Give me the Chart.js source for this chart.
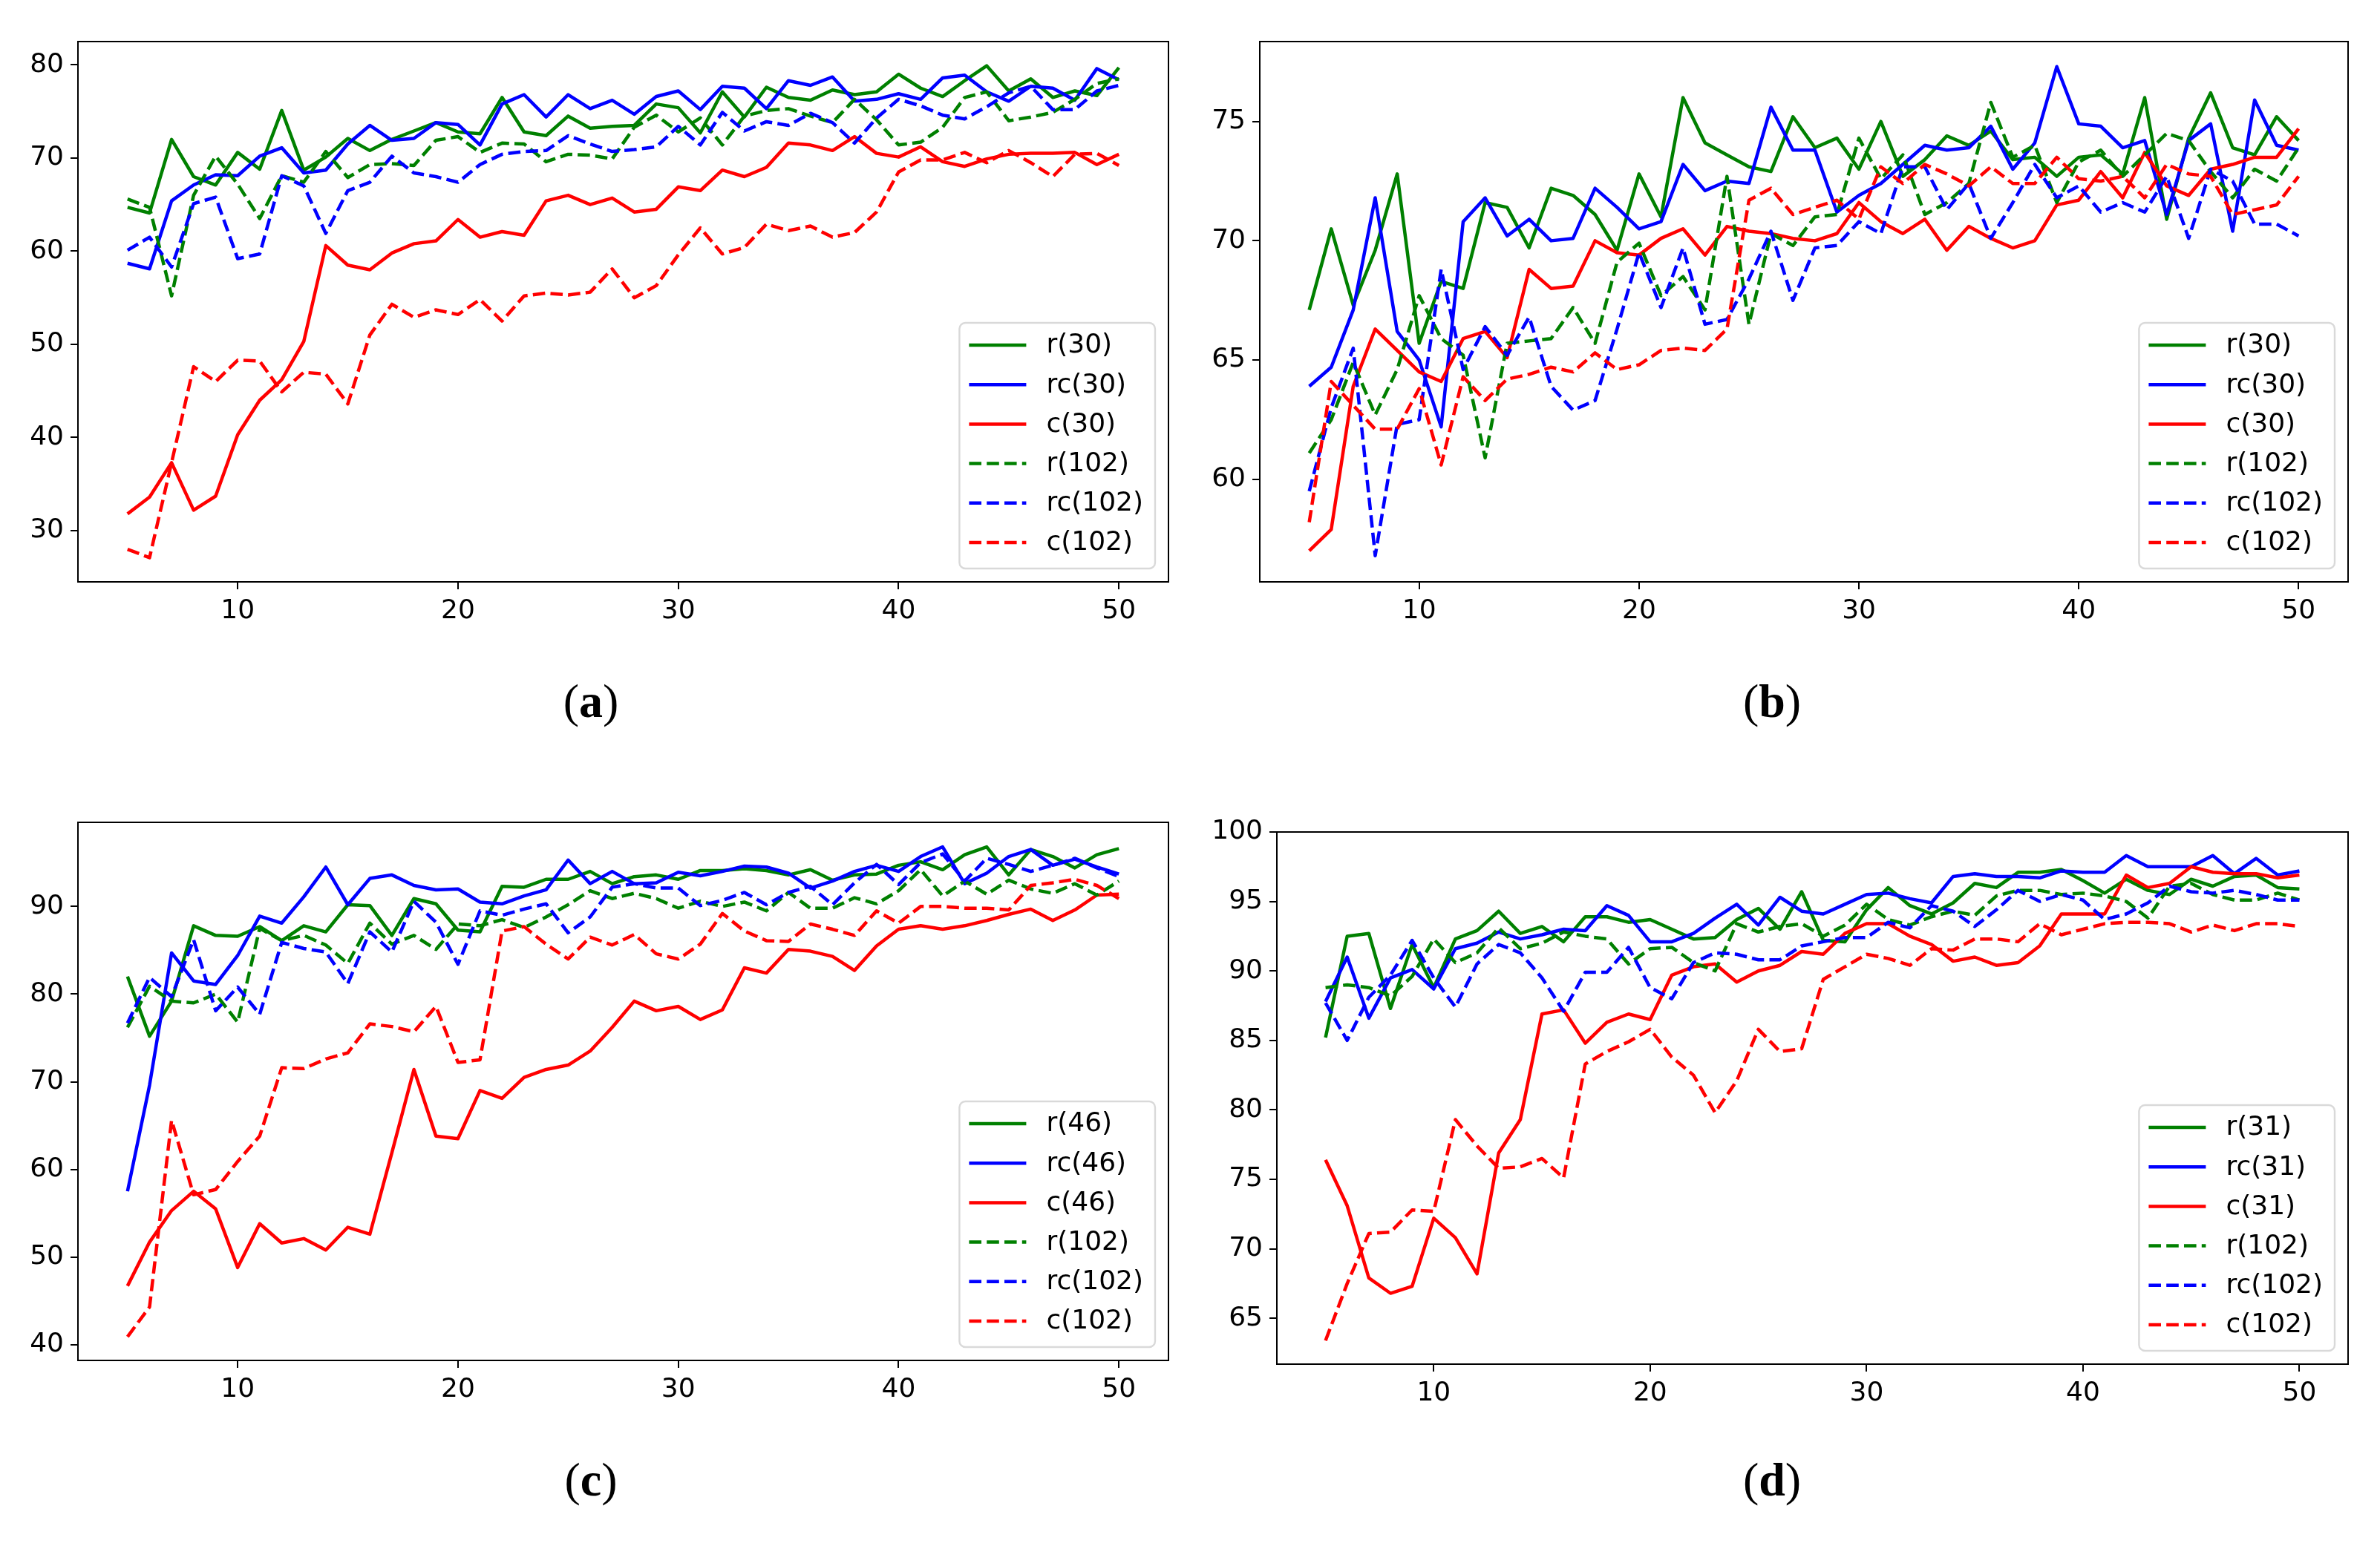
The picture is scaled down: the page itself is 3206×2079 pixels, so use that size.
<!DOCTYPE html>
<html>
<head>
<meta charset="utf-8">
<script src="https://cdn.jsdelivr.net/npm/chart.js@4.4.1/dist/chart.umd.min.js"></script>
<style>
    body { margin: 0; width: 3206px; height: 2079px; background: #fff; position: relative; overflow: hidden; }
    canvas { position: absolute; }
    .caption { position: absolute; font-family: "Liberation Serif", serif; font-size: 64px; color: #000;
               transform: translate(-50%, -50%); white-space: nowrap; }
</style>
</head>
<body>
<canvas id="chart-a" width="1600" height="880" style="left:0px;top:0px"></canvas>
<canvas id="chart-b" width="1606" height="880" style="left:1600px;top:0px"></canvas>
<canvas id="chart-c" width="1600" height="880" style="left:0px;top:1040px"></canvas>
<canvas id="chart-d" width="1606" height="880" style="left:1600px;top:1040px"></canvas>
<div class="caption" style="left:796px;top:945px">(<b>a</b>)</div>
<div class="caption" style="left:2387px;top:945px">(<b>b</b>)</div>
<div class="caption" style="left:796px;top:1994px">(<b>c</b>)</div>
<div class="caption" style="left:2387px;top:1994px">(<b>d</b>)</div>
<script>
/* ------------------------------- Data -------------------------------*/

var epochs = [5, 6, 7, 8, 9, 10, 11, 12, 13, 14, 15, 16, 17, 18, 19, 20, 21, 22, 23, 24, 25, 26, 27,
              28, 29, 30, 31, 32, 33, 34, 35, 36, 37, 38, 39, 40, 41, 42, 43, 44, 45, 46, 47, 48, 49, 50];
var xTicks = [10, 20, 30, 40, 50];

// (a)
var aLabels = ["r(30)", "rc(30)", "c(30)", "r(102)", "rc(102)", "c(102)"];
var aYTicks = [30, 40, 50, 60, 70, 80];
var aR30 = [64.7, 64.1, 72.0, 68.0, 67.1, 70.6, 68.8, 75.1, 68.7, 70.1, 72.1, 70.8, 72.0, 72.9, 73.8, 72.8, 72.6, 76.5, 72.8, 72.4, 74.5, 73.2, 73.4,
            73.5, 75.8, 75.4, 72.7, 77.1, 74.4, 77.6, 76.5, 76.2, 77.3, 76.8, 77.1, 79.0, 77.5, 76.6, 78.3, 79.9, 77.2, 78.5, 76.5, 77.2, 76.7, 79.7];
var aRC30 = [58.7, 58.1, 65.4, 67.1, 68.2, 68.1, 70.2, 71.1, 68.4, 68.7, 71.5, 73.5, 71.9, 72.1, 73.8, 73.6, 71.4, 75.8, 76.8, 74.4, 76.8, 75.3, 76.2,
             74.7, 76.6, 77.2, 75.2, 77.7, 77.5, 75.3, 78.3, 77.8, 78.7, 76.1, 76.3, 76.9, 76.3, 78.6, 78.9, 77.1, 76.1, 77.7, 77.5, 76.2, 79.6, 78.4];
var aC30 = [31.8, 33.6, 37.3, 32.2, 33.7, 40.3, 44.0, 46.2, 50.3, 60.6, 58.5, 58.0, 59.8, 60.8, 61.1, 63.4, 61.5, 62.1, 61.7, 65.4, 66.0, 65.0, 65.7,
            64.2, 64.5, 66.9, 66.5, 68.7, 68.0, 69.0, 71.6, 71.4, 70.8, 72.3, 70.5, 70.1, 71.2, 69.6, 69.1, 69.9, 70.4, 70.5, 70.5, 70.6, 69.3, 70.4];
var aR102 = [65.6, 64.7, 55.2, 66.0, 70.2, 67.2, 63.5, 68.1, 67.4, 70.7, 67.9, 69.3, 69.4, 69.2, 71.9, 72.3, 70.6, 71.6, 71.5, 69.6, 70.4, 70.3, 69.9,
             73.3, 74.6, 72.8, 74.3, 71.4, 74.5, 75.1, 75.3, 74.5, 73.8, 76.3, 74.1, 71.4, 71.7, 73.3, 76.5, 77.1, 74.0, 74.4, 74.9, 76.3, 78.0, 78.5];
var aRC102 = [60.1, 61.5, 58.3, 65.1, 65.8, 59.2, 59.7, 68.1, 67.0, 61.9, 66.5, 67.4, 70.2, 68.4, 68.0, 67.4, 69.3, 70.4, 70.7, 70.8, 72.4, 71.5, 70.7,
              70.9, 71.2, 73.4, 71.4, 74.9, 72.9, 73.9, 73.5, 74.8, 73.8, 71.6, 74.3, 76.3, 75.6, 74.6, 74.2, 75.5, 77.0, 77.7, 75.2, 75.2, 77.2, 77.8];
var aC102 = [28.0, 27.1, 37.3, 47.6, 46.0, 48.3, 48.2, 44.9, 47.0, 46.8, 43.6, 51.0, 54.3, 52.9, 53.7, 53.2, 54.8, 52.5, 55.2, 55.5, 55.3, 55.6, 58.1,
             55.0, 56.3, 59.6, 62.5, 59.7, 60.4, 62.9, 62.2, 62.7, 61.5, 62.0, 64.2, 68.5, 69.8, 69.8, 70.6, 69.5, 70.8, 69.5, 68.0, 70.4, 70.5, 69.2];

// (b)
var bLabels = ["r(30)", "rc(30)", "c(30)", "r(102)", "rc(102)", "c(102)"];
var bYTicks = [60, 65, 70, 75];
var bR30 = [67.1, 70.5, 67.3, 69.6, 72.8, 65.7, 68.3, 68.0, 71.6, 71.4, 69.7, 72.2, 71.9, 71.1, 69.6, 72.8, 71.0, 76.0, 74.1, 73.6, 73.1, 72.9, 75.2,
            73.9, 74.3, 73.0, 75.0, 72.7, 73.4, 74.4, 74.0, 74.6, 73.4, 73.5, 72.7, 73.5, 73.6, 72.8, 76.0, 70.9, 74.3, 76.2, 73.9, 73.6, 75.2, 74.2];
var bRC30 = [63.9, 64.7, 67.1, 71.8, 66.2, 65.0, 62.2, 70.8, 71.8, 70.2, 70.9, 70.0, 70.1, 72.2, 71.4, 70.5, 70.8, 73.2, 72.1, 72.5, 72.4, 75.6, 73.8,
             73.8, 71.2, 71.9, 72.4, 73.2, 74.0, 73.8, 73.9, 74.8, 73.0, 74.1, 77.3, 74.9, 74.8, 73.9, 74.2, 71.1, 74.2, 74.9, 70.4, 75.9, 74.0, 73.8];
var bC30 = [57.0, 57.9, 63.9, 66.3, 65.4, 64.5, 64.1, 65.9, 66.2, 65.1, 68.8, 68.0, 68.1, 70.0, 69.5, 69.4, 70.1, 70.5, 69.4, 70.6, 70.4, 70.3, 70.1,
            70.0, 70.3, 71.6, 70.8, 70.3, 70.9, 69.6, 70.6, 70.1, 69.7, 70.0, 71.5, 71.7, 72.9, 71.8, 73.7, 72.3, 71.9, 73.0, 73.2, 73.5, 73.5, 74.7];
var bR102 = [61.1, 62.5, 64.9, 62.7, 64.6, 67.7, 65.9, 65.2, 60.9, 65.7, 65.8, 65.9, 67.2, 65.7, 69.1, 69.9, 67.7, 68.5, 67.1, 72.7, 66.5, 70.3, 69.8,
             71.0, 71.1, 74.3, 72.6, 73.6, 71.1, 71.6, 72.4, 75.8, 73.5, 74.0, 71.6, 73.3, 73.8, 72.7, 73.6, 74.5, 74.2, 72.9, 71.8, 73.0, 72.5, 73.9];
var bRC102 = [59.5, 63.0, 65.5, 56.8, 62.3, 62.5, 68.8, 64.6, 66.4, 65.2, 66.8, 63.9, 62.9, 63.3, 66.3, 69.5, 67.2, 69.7, 66.5, 66.7, 68.4, 70.4, 67.5,
              69.7, 69.8, 70.8, 70.3, 73.1, 73.1, 71.3, 72.4, 70.1, 71.6, 73.2, 71.8, 72.3, 71.2, 71.6, 71.2, 72.7, 70.1, 73.0, 72.5, 70.7, 70.7, 70.2];
var bC102 = [58.2, 64.1, 63.1, 62.1, 62.1, 63.8, 60.6, 64.3, 63.3, 64.2, 64.4, 64.7, 64.5, 65.3, 64.6, 64.8, 65.4, 65.5, 65.4, 66.3, 71.7, 72.2, 71.1,
             71.4, 71.7, 70.9, 73.1, 72.4, 73.2, 72.8, 72.3, 73.1, 72.4, 72.4, 73.5, 72.6, 72.5, 72.7, 71.8, 73.2, 72.8, 72.7, 71.1, 71.3, 71.5, 72.7];

// (c)
var cLabels = ["r(46)", "rc(46)", "c(46)", "r(102)", "rc(102)", "c(102)"];
var cYTicks = [40, 50, 60, 70, 80, 90];
var cR46 = [82.0, 75.2, 79.2, 87.8, 86.7, 86.6, 87.7, 86.1, 87.8, 87.1, 90.2, 90.1, 86.7, 90.9, 90.3, 87.3, 87.1, 92.3, 92.2, 93.1, 93.1, 94.0, 92.6,
            93.4, 93.6, 93.1, 94.1, 94.1, 94.3, 94.1, 93.6, 94.2, 93.0, 93.6, 93.7, 94.7, 95.1, 94.2, 95.9, 96.8, 93.6, 96.5, 95.7, 94.4, 95.9, 96.6];
var cRC46 = [57.5, 69.6, 84.7, 81.5, 81.1, 84.4, 88.9, 88.1, 91.1, 94.5, 90.2, 93.2, 93.6, 92.4, 91.9, 92.0, 90.5, 90.3, 91.2, 91.9, 95.3, 92.6, 94.0,
             92.6, 92.7, 93.9, 93.5, 94.0, 94.6, 94.5, 93.8, 92.1, 92.9, 94.0, 94.7, 94.0, 95.7, 96.8, 92.6, 93.8, 95.7, 96.5, 94.7, 95.4, 94.5, 93.7];
var cC46 = [46.7, 51.7, 55.3, 57.5, 55.5, 48.8, 53.8, 51.6, 52.1, 50.8, 53.4, 52.6, 61.9, 71.4, 63.8, 63.5, 69.0, 68.1, 70.5, 71.4, 71.9, 73.5, 76.2,
            79.2, 78.1, 78.6, 77.1, 78.2, 83.0, 82.4, 85.1, 84.9, 84.3, 82.7, 85.5, 87.4, 87.8, 87.4, 87.8, 88.4, 89.1, 89.7, 88.4, 89.6, 91.3, 91.4];
var cR102 = [76.2, 80.9, 79.2, 79.0, 80.0, 76.8, 87.5, 86.1, 86.7, 85.6, 83.5, 88.1, 85.7, 86.7, 85.1, 88.0, 87.8, 88.5, 87.6, 88.8, 90.2, 91.8, 90.9,
             91.5, 90.9, 89.8, 90.6, 90.0, 90.5, 89.5, 91.6, 89.8, 89.8, 91.0, 90.3, 91.8, 94.2, 91.2, 92.9, 91.4, 93.0, 92.0, 91.5, 92.6, 91.3, 92.9];
var cRC102 = [76.7, 81.9, 79.7, 86.2, 78.1, 80.8, 77.7, 85.9, 85.2, 84.8, 81.2, 87.1, 84.8, 90.6, 88.2, 83.4, 89.5, 89.0, 89.7, 90.3, 87.0, 88.8, 92.2,
              92.6, 92.1, 92.1, 90.1, 90.7, 91.6, 90.2, 91.6, 92.3, 90.2, 92.7, 94.8, 92.5, 95.0, 96.0, 92.9, 95.5, 94.8, 94.0, 94.7, 95.5, 94.4, 93.4];
var cC102 = [40.9, 44.3, 65.6, 57.1, 57.7, 60.9, 63.8, 71.6, 71.5, 72.6, 73.3, 76.6, 76.3, 75.7, 78.6, 72.2, 72.5, 87.2, 87.7, 85.7, 84.0, 86.5, 85.6,
             86.8, 84.6, 84.0, 85.7, 89.2, 87.2, 86.1, 86.0, 88.0, 87.4, 86.7, 89.5, 88.1, 90.0, 90.0, 89.8, 89.8, 89.6, 92.4, 92.7, 93.1, 92.4, 90.9];

// (d)
var dLabels = ["r(31)", "rc(31)", "c(31)", "r(102)", "rc(102)", "c(102)"];
var dYTicks = [65, 70, 75, 80, 85, 90, 95, 100];
var dR31 = [85.2, 92.5, 92.7, 87.3, 91.9, 88.8, 92.3, 92.9, 94.3, 92.7, 93.2, 92.1, 93.9, 93.9, 93.5, 93.7, 93.0, 92.3, 92.4, 93.7, 94.5, 93.0, 95.7,
            92.2, 92.1, 94.4, 96.0, 94.7, 94.1, 94.9, 96.3, 96.0, 97.1, 97.1, 97.3, 96.5, 95.6, 96.6, 95.8, 95.5, 96.6, 96.1, 96.8, 96.9, 96.0, 95.9];
var dRC31 = [87.8, 91.0, 86.6, 89.5, 90.1, 88.7, 91.6, 92.0, 92.8, 92.3, 92.6, 93.0, 92.9, 94.7, 94.0, 92.1, 92.1, 92.7, 93.8, 94.8, 93.3, 95.3, 94.3,
             94.1, 94.8, 95.5, 95.6, 95.2, 94.9, 96.8, 97.0, 96.8, 96.8, 96.7, 97.2, 97.1, 97.1, 98.3, 97.5, 97.5, 97.5, 98.3, 97.0, 98.1, 96.9, 97.2];
var dC31 = [76.4, 73.1, 67.9, 66.8, 67.3, 72.2, 70.8, 68.2, 76.9, 79.3, 86.9, 87.2, 84.8, 86.3, 86.9, 86.5, 89.7, 90.3, 90.5, 89.2, 90.0, 90.4, 91.4,
            91.2, 92.7, 93.4, 93.4, 92.5, 91.9, 90.7, 91.0, 90.4, 90.6, 91.8, 94.1, 94.1, 94.1, 96.9, 96.0, 96.3, 97.5, 97.1, 97.0, 97.0, 96.7, 96.9];
var dR102 = [88.8, 89.0, 88.8, 88.2, 89.6, 92.3, 90.6, 91.3, 93.1, 91.6, 92.0, 92.8, 92.5, 92.3, 90.5, 91.6, 91.7, 90.6, 90.0, 93.4, 92.8, 93.2, 93.4,
             92.5, 93.3, 94.8, 93.7, 93.3, 93.9, 94.3, 94.0, 95.4, 95.8, 95.8, 95.5, 95.6, 95.4, 95.0, 93.8, 96.1, 96.3, 95.5, 95.1, 95.1, 95.6, 95.1];
var dRC102 = [87.7, 85.0, 88.1, 89.7, 92.2, 89.5, 87.4, 90.5, 91.9, 91.3, 89.5, 87.1, 89.9, 89.9, 91.7, 88.8, 88.0, 90.6, 91.3, 91.2, 90.8, 90.8, 91.8,
              92.1, 92.4, 92.4, 93.5, 93.1, 94.7, 94.3, 93.2, 94.4, 95.8, 95.0, 95.5, 95.1, 93.7, 94.1, 94.9, 96.1, 95.7, 95.6, 95.8, 95.5, 95.1, 95.1];
var dC102 = [63.4, 67.5, 71.1, 71.2, 72.8, 72.7, 79.3, 77.4, 75.8, 75.9, 76.5, 75.1, 83.3, 84.2, 84.9, 85.8, 83.8, 82.5, 79.8, 82.1, 85.8, 84.2, 84.4,
             89.4, 90.3, 91.2, 90.9, 90.4, 91.6, 91.5, 92.3, 92.3, 92.1, 93.4, 92.6, 93.0, 93.4, 93.5, 93.5, 93.4, 92.8, 93.3, 92.9, 93.4, 93.4, 93.2];

/* ------------------------------- Plugins -------------------------------*/

var FONT_SIZE = 36;
var FONT = FONT_SIZE + 'px "DejaVu Sans"';
var DASH = [16.6, 7.2];

var framePlugin = {                                   // рамка навколо області графіка
    id: 'frame',
    afterDatasetsDraw: function (chart) {
        var a = chart.chartArea, ctx = chart.ctx;
        ctx.save();
        ctx.strokeStyle = '#000';
        ctx.lineWidth = 2;
        ctx.strokeRect(a.left, a.top, a.right - a.left, a.bottom - a.top);
        ctx.restore();
    }
};

var boxLegendPlugin = {                               // легенда в правому нижньому куті
    id: 'boxLegend',
    afterDraw: function (chart) {
        var a = chart.chartArea, ctx = chart.ctx;
        var sets = chart.data.datasets;
        ctx.save();
        ctx.font = FONT;
        var textW = 0;
        sets.forEach(function (ds) { textW = Math.max(textW, ctx.measureText(ds.label).width); });
        var w = 13 + 77 + 27 + textW + 16;
        var h = 30 + 5 * 53.2 + 35;
        var x = a.right - 18 - w;
        var y = a.bottom - 18 - h;

        ctx.beginPath();
        ctx.roundRect(x, y, w, h, 8);
        ctx.fillStyle = 'rgba(255,255,255,0.8)';
        ctx.fill();
        ctx.strokeStyle = '#d9d9d9';
        ctx.lineWidth = 2.4;
        ctx.stroke();

        sets.forEach(function (ds, i) {
            var cy = y + 30 + i * 53.2;
            ctx.beginPath();
            ctx.setLineDash(ds.borderDash || []);
            ctx.strokeStyle = ds.borderColor;
            ctx.lineWidth = ds.borderWidth;
            ctx.moveTo(x + 13, cy);
            ctx.lineTo(x + 90, cy);
            ctx.stroke();
            ctx.setLineDash([]);
            ctx.fillStyle = '#000';
            ctx.textBaseline = 'middle';
            ctx.fillText(ds.label, x + 117, cy + 1);
        });
        ctx.restore();
    }
};

/* ------------------------------- Charts -------------------------------*/

function makeDataset(label, values, color, dashed, index) {
    return {
        label: label,
        data: values.map(function (v, i) { return { x: epochs[i], y: v }; }),
        borderColor: color,
        borderWidth: 4.5,
        borderDash: dashed ? DASH : [],
        borderJoinStyle: 'round',
        pointRadius: 0,
        tension: 0,
        fill: false,
        order: 6 - index                               // пізніші серії малюються зверху
    };
}

function axisTicks(values) {
    return function (scale) {
        scale.ticks = values.map(function (v) { return { value: v }; });
    };
}

function drawPanel(id, labels, series, yTicks, yMin, yMax, area) {
    var canvas = document.getElementById(id);
    var colors = ['green', 'blue', 'red', 'green', 'blue', 'red'];
    var datasets = series.map(function (s, i) {
        return makeDataset(labels[i], s, colors[i], i >= 3, i);
    });

    var tickStyle = {
        display: true, drawOnChartArea: false, drawTicks: true,
        tickLength: 10, color: '#000', lineWidth: 2
    };

    new Chart(canvas.getContext('2d'), {
        type: 'line',
        data: { datasets: datasets },
        options: {
            responsive: false,
            animation: false,
            devicePixelRatio: 1,
            layout: {
                padding: { left: 0, top: area.top, right: canvas.width - area.right, bottom: 0 }
            },
            plugins: { legend: { display: false }, tooltip: { enabled: false } },
            scales: {
                x: {
                    type: 'linear', min: 2.75, max: 52.25,
                    grid: tickStyle,
                    border: { display: false },
                    ticks: { color: '#000', font: { family: 'DejaVu Sans', size: FONT_SIZE }, padding: 8, maxRotation: 0 },
                    afterBuildTicks: axisTicks(xTicks),
                    afterFit: function (scale) { scale.height = canvas.height - area.bottom; }
                },
                y: {
                    type: 'linear', min: yMin, max: yMax,
                    grid: tickStyle,
                    border: { display: false },
                    ticks: { color: '#000', font: { family: 'DejaVu Sans', size: FONT_SIZE }, padding: 9 },
                    afterBuildTicks: axisTicks(yTicks),
                    afterFit: function (scale) { scale.width = area.left; }
                }
            }
        },
        plugins: [framePlugin, boxLegendPlugin]
    });
}

drawPanel('chart-a', aLabels, [aR30, aRC30, aC30, aR102, aRC102, aC102], aYTicks, 24.5, 82.5,
    { left: 105, top: 56, right: 1574, bottom: 784 });
drawPanel('chart-b', bLabels, [bR30, bRC30, bC30, bR102, bRC102, bC102], bYTicks, 55.7, 78.35,
    { left: 97, top: 56, right: 1563, bottom: 784 });
drawPanel('chart-c', cLabels, [cR46, cRC46, cC46, cR102, cRC102, cC102], cYTicks, 38.2, 99.6,
    { left: 105, top: 68, right: 1574, bottom: 793 });
drawPanel('chart-d', dLabels, [dR31, dRC31, dC31, dR102, dRC102, dC102], dYTicks, 61.7, 100,
    { left: 120, top: 81, right: 1563, bottom: 798 });
</script>
</body>
</html>
